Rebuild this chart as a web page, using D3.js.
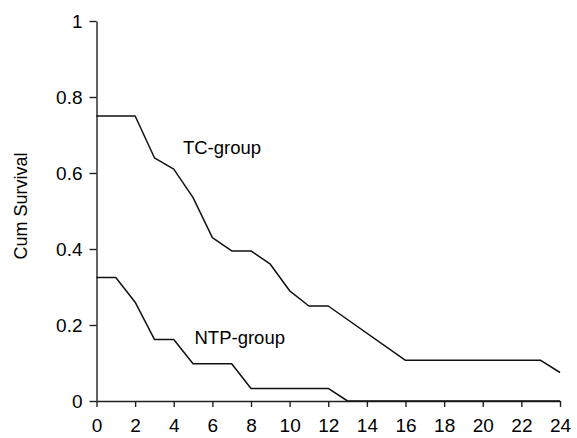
<!DOCTYPE html>
<html>
<head>
    <meta charset="utf-8">
    <script src="https://d3js.org/d3.v7.min.js"></script>
    <style>
        body { margin: 0; background: #fff; }
        text { font-family: "Liberation Sans", Arial, sans-serif; fill: #000; }
    </style>
</head>
<body>
<div id="chart"></div>
<script>
    // survival curves (months, cumulative survival)
    var tcMonths  = [0, 2, 3, 4, 5, 6, 7, 8, 9, 10, 11, 12, 16, 23, 24];
    var tcSurv    = [0.75, 0.75, 0.64, 0.61, 0.535, 0.43, 0.395, 0.395, 0.36, 0.29, 0.25, 0.25, 0.107, 0.107, 0.075];
    var ntpMonths = [0, 1, 2, 3, 4, 5, 7, 8, 12, 13, 24];
    var ntpSurv   = [0.325, 0.325, 0.26, 0.162, 0.162, 0.098, 0.098, 0.033, 0.033, 0, 0];

    var xTicks = [0, 2, 4, 6, 8, 10, 12, 14, 16, 18, 20, 22, 24];
    var yTicks = [0, 0.2, 0.4, 0.6, 0.8, 1];

    var W = 577, H = 438;
    var margin = { top: 21, right: 17, bottom: 37, left: 96.5 },
        width = W - margin.left - margin.right,
        height = H - margin.top - margin.bottom;

    var svg = d3.select("#chart").append("svg")
        .attr("width", W).attr("height", H)
        .append("g")
        .attr("transform", "translate(" + margin.left + "," + margin.top + ")");

    var x = d3.scaleLinear().domain([0, 24]).range([0, width]);
    var y = d3.scaleLinear().domain([0, 1]).range([height, 0]);

    // x axis
    var gx = svg.append("g")
        .attr("transform", "translate(0," + height + ")")
        .call(d3.axisBottom(x).tickValues(xTicks).tickFormat(d3.format("d")).tickSize(6).tickSizeOuter(0).tickPadding(12));
    gx.selectAll("text").style("font-size", "19px");

    // y axis
    var gy = svg.append("g")
        .call(d3.axisLeft(y).tickValues(yTicks).tickFormat(function (d) { return d3.format("")(d); })
            .tickSize(7).tickSizeOuter(0).tickPadding(7));
    gy.selectAll("text").style("font-size", "19px").attr("dy", "0.36em");

    svg.selectAll(".domain, .tick line").attr("stroke", "#222").attr("stroke-width", 1.4);

    // y axis title
    svg.append("text")
        .attr("transform", "rotate(-90)")
        .attr("x", -(y(0.5) - 5))
        .attr("y", -margin.left + 27)
        .style("text-anchor", "middle")
        .style("font-size", "18px")
        .text("Cum Survival");

    var line = d3.line()
        .x(function (d) { return x(d[0]); })
        .y(function (d) { return y(d[1]); });

    var tc = tcMonths.map(function (m, i) { return [m, tcSurv[i]]; });
    var ntp = ntpMonths.map(function (m, i) { return [m, ntpSurv[i]]; });

    [tc, ntp].forEach(function (s) {
        svg.append("path")
            .datum(s)
            .attr("d", line)
            .attr("fill", "none")
            .attr("stroke", "#111")
            .attr("stroke-width", 1.5)
            .attr("stroke-linejoin", "round");
    });

    // curve labels
    svg.append("text")
        .attr("x", x(4.5) - 0.5).attr("y", y(0.651))
        .style("font-size", "18.5px")
        .text("TC-group");
    svg.append("text")
        .attr("x", x(5.1) - 0.5).attr("y", y(0.15))
        .style("font-size", "18.5px")
        .text("NTP-group");
</script>
</body>
</html>
